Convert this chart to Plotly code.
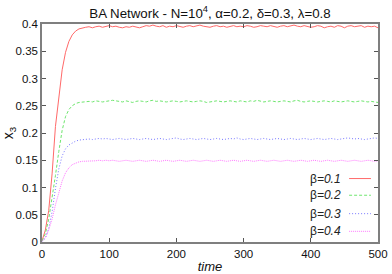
import plotly.graph_objects as go

TIME = list(range(0, 501, 5))

BETA_LABELS = ["0.1", "0.2", "0.3", "0.4"]

X3_BETA_01 = [
    0.002, 0.022, 0.058, 0.125, 0.212, 0.262, 0.316, 0.348, 0.368, 0.380, 0.387, 0.391, 0.393,
    0.394, 0.395, 0.393, 0.395, 0.396, 0.394, 0.396, 0.397, 0.395, 0.396,
    0.394, 0.393, 0.395, 0.394, 0.396, 0.395, 0.393, 0.395, 0.397, 0.396,
    0.398, 0.396, 0.395, 0.397, 0.394, 0.396, 0.395, 0.397, 0.396, 0.394,
    0.396, 0.397, 0.395, 0.396, 0.398, 0.396, 0.395, 0.394, 0.396, 0.397,
    0.395, 0.396, 0.394, 0.396, 0.397, 0.395, 0.396, 0.395, 0.397, 0.396,
    0.394, 0.395, 0.397, 0.396, 0.395, 0.397, 0.396, 0.394, 0.396, 0.397,
    0.395, 0.396, 0.398, 0.396, 0.395, 0.397, 0.396, 0.394, 0.395, 0.397,
    0.396, 0.393, 0.395, 0.396, 0.394, 0.397, 0.396, 0.393, 0.396, 0.397,
    0.395, 0.396, 0.397, 0.394, 0.396, 0.395, 0.396, 0.393,
]

X3_BETA_02 = [
    0.002, 0.015, 0.042, 0.080, 0.122, 0.166, 0.205, 0.230, 0.243, 0.250, 0.254, 0.256, 0.257,
    0.257, 0.258, 0.257, 0.259, 0.258, 0.257, 0.258, 0.259, 0.260, 0.259,
    0.258, 0.257, 0.259, 0.258, 0.256, 0.258, 0.259, 0.258, 0.257, 0.259,
    0.260, 0.258, 0.259, 0.258, 0.257, 0.258, 0.259, 0.258, 0.257, 0.258,
    0.259, 0.258, 0.257, 0.258, 0.259, 0.258, 0.256, 0.257, 0.258, 0.259,
    0.258, 0.257, 0.258, 0.259, 0.258, 0.257, 0.259, 0.258, 0.257, 0.259,
    0.258, 0.260, 0.258, 0.257, 0.258, 0.259, 0.258, 0.257, 0.258, 0.259,
    0.258, 0.257, 0.259, 0.260, 0.258, 0.257, 0.258, 0.259, 0.258, 0.257,
    0.258, 0.259, 0.258, 0.257, 0.259, 0.258, 0.257, 0.258, 0.259, 0.258,
    0.257, 0.258, 0.259, 0.258, 0.257, 0.258, 0.257, 0.256,
]

X3_BETA_03 = [
    0.001, 0.007, 0.025, 0.055, 0.098, 0.134, 0.158, 0.171, 0.178, 0.182, 0.185, 0.187, 0.188,
    0.188, 0.189, 0.188, 0.189, 0.190, 0.189, 0.190, 0.189, 0.188, 0.189,
    0.190, 0.189, 0.188, 0.189, 0.190, 0.189, 0.188, 0.189, 0.190, 0.189,
    0.188, 0.189, 0.190, 0.189, 0.188, 0.189, 0.190, 0.191, 0.189, 0.188,
    0.189, 0.190, 0.189, 0.188, 0.189, 0.190, 0.189, 0.188, 0.189, 0.190,
    0.189, 0.188, 0.189, 0.190, 0.189, 0.191, 0.189, 0.188, 0.189, 0.190,
    0.189, 0.188, 0.189, 0.190, 0.189, 0.188, 0.189, 0.190, 0.189, 0.188,
    0.189, 0.190, 0.189, 0.188, 0.189, 0.190, 0.189, 0.188, 0.189, 0.190,
    0.189, 0.188, 0.189, 0.190, 0.189, 0.188, 0.189, 0.190, 0.191, 0.190,
    0.189, 0.190, 0.189, 0.188, 0.189, 0.190, 0.191, 0.190,
]

X3_BETA_04 = [
    0.001, 0.008, 0.022, 0.042, 0.068, 0.090, 0.112, 0.127, 0.136, 0.142, 0.145, 0.147, 0.148,
    0.148, 0.149, 0.148, 0.149, 0.150, 0.149, 0.150, 0.149, 0.150, 0.149,
    0.148, 0.149, 0.150, 0.149, 0.148, 0.149, 0.150, 0.149, 0.148, 0.149,
    0.150, 0.149, 0.148, 0.149, 0.150, 0.149, 0.148, 0.149, 0.150, 0.149,
    0.148, 0.149, 0.150, 0.149, 0.148, 0.149, 0.150, 0.149, 0.148, 0.149,
    0.150, 0.149, 0.148, 0.149, 0.150, 0.149, 0.148, 0.149, 0.150, 0.149,
    0.148, 0.149, 0.150, 0.149, 0.148, 0.149, 0.150, 0.149, 0.148, 0.149,
    0.150, 0.149, 0.148, 0.149, 0.150, 0.149, 0.148, 0.149, 0.150, 0.149,
    0.148, 0.149, 0.150, 0.149, 0.148, 0.149, 0.150, 0.149, 0.148, 0.149,
    0.150, 0.149, 0.148, 0.149, 0.150, 0.149, 0.148, 0.149,
]

SERIES = [X3_BETA_01, X3_BETA_02, X3_BETA_03, X3_BETA_04]
COLORS = ["rgb(255,105,105)", "rgb(110,230,110)", "rgb(120,120,255)", "rgb(255,120,255)"]
DASHES = ["solid", "3px,2px", "1px,2px", "1px,1px"]

FONT = "Liberation Sans, Arial, sans-serif"

fig = go.Figure()
for vals, col, dash, lab in zip(SERIES, COLORS, DASHES, BETA_LABELS):
    fig.add_trace(go.Scatter(
        x=TIME, y=vals, mode="lines", name="β=" + lab,
        line=dict(color=col, width=1, dash=dash), showlegend=False,
    ))

# manual legend (text on left, sample line on right)
legend_y = [0.291, 0.2145, 0.13, 0.049]
for lab, col, dash, yy in zip(BETA_LABELS, COLORS, DASHES, legend_y):
    fig.add_annotation(
        xref="paper", yref="paper", x=0.896, y=yy, xanchor="right", yanchor="middle",
        text="β<i>=" + lab + "</i>", showarrow=False,
        font=dict(family=FONT, size=12, color="#222"),
    )
    fig.add_shape(
        type="line", xref="paper", yref="paper", x0=0.914, x1=0.979, y0=yy, y1=yy,
        line=dict(color=col, width=1, dash=dash),
    )

axis_common = dict(
    showline=True, linecolor="#7f7f7f", linewidth=1.5, mirror="ticks",
    ticks="inside", ticklen=4, tickwidth=1, tickcolor="#555",
    showgrid=False, zeroline=False, automargin=False,
    tickfont=dict(family=FONT, size=11.5, color="#111"),
)

fig.update_layout(
    width=392, height=274,
    margin=dict(l=42, r=14, t=24, b=32),
    paper_bgcolor="white", plot_bgcolor="white",
    font=dict(family=FONT, color="#111"),
    title=dict(
        text="BA Network - N=10<sup>4</sup>, α=0.2, δ=0.3, λ=0.8",
        x=0.5, xanchor="center", xref="paper",
        y=0.953, yanchor="middle", yref="container",
        font=dict(family=FONT, size=13.3, color="#111"),
    ),
    xaxis=dict(
        range=[0, 500], tickvals=[0, 100, 200, 300, 400, 500],
        title=dict(text="<i>time</i>", font=dict(family=FONT, size=13)),
        **axis_common,
    ),
    yaxis=dict(
        range=[0, 0.4], dtick=0.05, tick0=0,
        title=dict(text="x<sub>3</sub>", font=dict(family=FONT, size=14)),
        **axis_common,
    ),
)

fig.write_html(
    "out.html",
    config={"displayModeBar": False},
    post_script="document.body.style.margin='0';",
)
